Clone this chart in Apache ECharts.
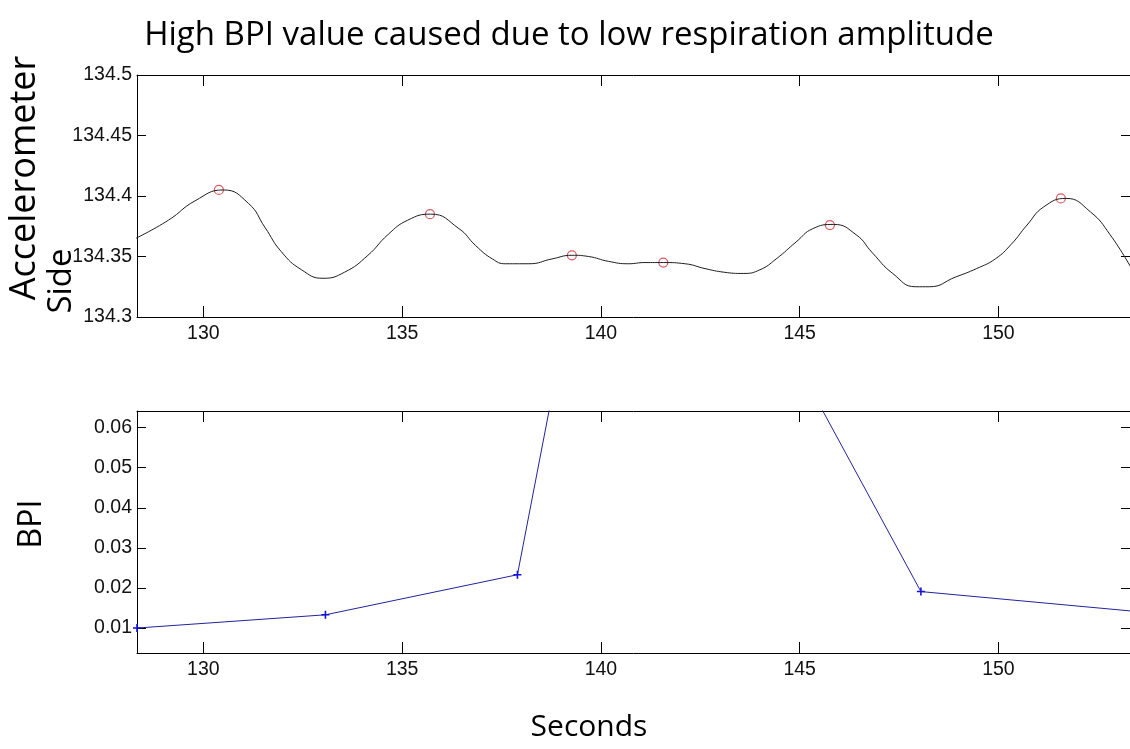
<!DOCTYPE html>
<html>
<head>
<meta charset="utf-8">
<script src="https://cdn.jsdelivr.net/npm/echarts@6/dist/echarts.min.js"></script>
<style>
  html, body { margin: 0; padding: 0; background: #fff; }
  #chart { width: 1130px; height: 749px; }
</style>
</head>
<body>
<div id="chart"></div>
<script>
// Accelerometer (side) signal, seconds vs. raw value
const accTime = [128.30, 129.12, 129.79, 130.50, 131.13, 131.55, 131.96, 132.47, 133.01,
  133.55, 134.14, 134.64, 135.14, 135.72, 136.43, 136.85, 137.27, 137.60,
  138.19, 138.77, 139.27, 139.69, 140.19, 140.69, 141.11, 141.57, 142.12, 142.62,
  143.10, 143.58, 144.00, 144.41, 144.91, 145.33, 145.85, 146.42, 146.83,
  147.34, 147.92, 148.26, 148.92, 149.45, 149.92, 150.32, 150.72, 151.14, 151.70,
  152.31, 152.81, 153.35];
const accValue = [134.365, 134.380, 134.396, 134.405, 134.394, 134.374, 134.354, 134.339, 134.332,
  134.337, 134.351, 134.368, 134.380, 134.385, 134.373, 134.359, 134.348, 134.344,
  134.344, 134.348, 134.351, 134.350, 134.346, 134.344, 134.345, 134.345, 134.344, 134.340,
  134.337, 134.336, 134.339, 134.348, 134.362, 134.373, 134.3765, 134.368, 134.353,
  134.336, 134.325, 134.325, 134.333, 134.340, 134.348, 134.360, 134.376, 134.391, 134.398,
  134.387, 134.368, 134.340];

// Detected respiration peaks
const peakTime = [130.39, 135.70, 139.27, 141.57, 145.76, 151.57];
const peakValue = [134.405, 134.385, 134.351, 134.345, 134.376, 134.398];

// Breathing pattern index per cycle
const bpiTime = [128.33, 133.07, 137.90, 140.50, 148.05, 153.50];
const bpiValue = [0.0100, 0.0133, 0.0233, 0.1570, 0.0191, 0.0141];

// Tick positions
const timeTicks = [130, 135, 140, 145, 150];
const accTicks = [134.3, 134.35, 134.4, 134.45, 134.5];
const bpiTicks = [0.01, 0.02, 0.03, 0.04, 0.05, 0.06];

const timeRange = [128.33, 153.31];
const accRange = [134.3, 134.5];
const bpiRange = [0.00377, 0.06416];

const zip = (xs, ys) => xs.map((x, i) => [x, ys[i]]);

const labelFont = { fontFamily: 'Liberation Sans', fontSize: 19.5, color: '#111' };

function xAxisFor(gridIndex, position, showLabels) {
  return {
    type: 'value', gridIndex, position,
    min: timeRange[0], max: timeRange[1],
    axisLine: { show: true, onZero: false, lineStyle: { color: '#000', width: 1 } },
    axisTick: { show: true, inside: true, length: 11, customValues: timeTicks, lineStyle: { color: '#000', width: 1 } },
    axisLabel: Object.assign({ show: showLabels, margin: 7, customValues: timeTicks }, labelFont),
    splitLine: { show: false }
  };
}

function yAxisFor(gridIndex, position, range, ticks, showLabels) {
  return {
    type: 'value', gridIndex, position,
    min: range[0], max: range[1],
    axisLine: { show: true, onZero: false, lineStyle: { color: '#000', width: 1 } },
    axisTick: { show: true, inside: true, length: 9, customValues: ticks, lineStyle: { color: '#000', width: 1 } },
    axisLabel: Object.assign({ show: showLabels, margin: 5, customValues: ticks }, labelFont),
    splitLine: { show: false }
  };
}

const chart = echarts.init(document.getElementById('chart'), null, { renderer: 'canvas' });

chart.setOption({
  animation: false,
  backgroundColor: '#fff',
  grid: [
    { left: 137, top: 75, width: 995, height: 242 },
    { left: 137, top: 411, width: 995, height: 242 }
  ],
  xAxis: [
    xAxisFor(0, 'bottom', true),
    xAxisFor(0, 'top', false),
    xAxisFor(1, 'bottom', true),
    xAxisFor(1, 'top', false)
  ],
  yAxis: [
    yAxisFor(0, 'left', accRange, accTicks, true),
    yAxisFor(0, 'right', accRange, accTicks, false),
    yAxisFor(1, 'left', bpiRange, bpiTicks, true),
    yAxisFor(1, 'right', bpiRange, bpiTicks, false)
  ],
  series: [
    {
      name: 'Accelerometer Side', type: 'line', xAxisIndex: 0, yAxisIndex: 0,
      data: zip(accTime, accValue), smooth: 0.5, showSymbol: false, clip: true,
      lineStyle: { color: '#1e1e1e', width: 1 }
    },
    {
      name: 'Peaks', type: 'scatter', xAxisIndex: 0, yAxisIndex: 0,
      data: zip(peakTime, peakValue), symbol: 'circle', symbolSize: 9,
      itemStyle: { color: 'rgba(0,0,0,0)', borderColor: '#d0303a', borderWidth: 1.2 }
    },
    {
      name: 'BPI', type: 'line', xAxisIndex: 2, yAxisIndex: 2,
      data: zip(bpiTime, bpiValue), clip: true, showSymbol: true,
      symbol: 'path://M5,0 L5,10 M0,5 L10,5', symbolSize: 8,
      lineStyle: { color: '#23239a', width: 1 },
      itemStyle: { color: 'rgba(0,0,0,0)', borderColor: '#1212d8', borderWidth: 1.6 }
    }
  ],
  graphic: [
    {
      type: 'text', x: 569, y: 36,
      style: { text: 'High BPI value caused due to low respiration amplitude', font: '33px "Open Sans"', fill: '#000', align: 'center', verticalAlign: 'middle' }
    },
    {
      type: 'text', x: 25, y: 178, rotation: Math.PI / 2,
      style: { text: 'Accelerometer', font: '36px "Open Sans"', fill: '#000', align: 'center', verticalAlign: 'middle' }
    },
    {
      type: 'text', x: 62, y: 281, rotation: Math.PI / 2,
      style: { text: 'Side', font: '33px "Open Sans"', fill: '#000', align: 'center', verticalAlign: 'middle' }
    },
    {
      type: 'text', x: 32, y: 524, rotation: Math.PI / 2,
      style: { text: 'BPI', font: '32px "Open Sans"', fill: '#000', align: 'center', verticalAlign: 'middle' }
    },
    {
      type: 'text', x: 589, y: 727,
      style: { text: 'Seconds', font: '30px "Open Sans"', fill: '#000', align: 'center', verticalAlign: 'middle' }
    }
  ]
});
</script>
</body>
</html>
